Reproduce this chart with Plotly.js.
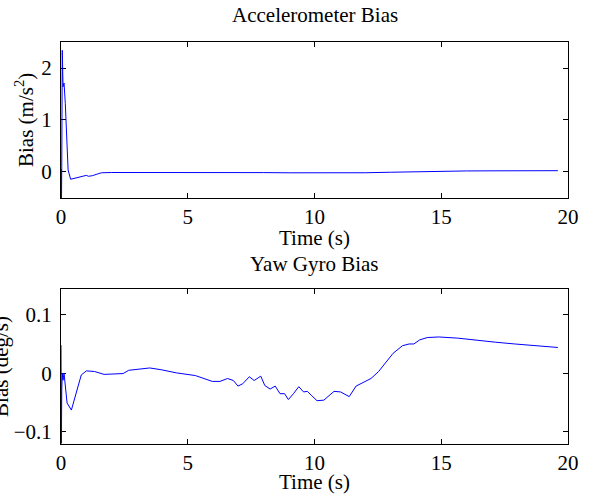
<!DOCTYPE html>
<html>
<head>
<meta charset="utf-8">
<script src="https://cdn.plot.ly/plotly-3.0.1.min.js"></script>
<style>html,body{margin:0;padding:0;background:#fff;}#chart{width:602px;height:494px;}</style>
</head>
<body>
<div id="chart"></div>
<script>
// Accelerometer bias (m/s^2) vs time (s)
const accelTime = [0, 0.005, 0.01, 0.015, 0.02, 0.03, 0.05, 0.08, 0.12, 0.17, 0.24, 0.28, 0.38, 0.55, 0.67, 0.85, 1.0, 1.09, 1.25, 1.43, 1.6, 2.0, 3, 4, 5, 6, 7, 8, 9, 10, 11, 12, 13, 14, 15, 16, 17, 18, 19, 19.6];
const accelBias = [0, -0.5, 0.05, -0.5, -0.5, 0.1, 2.34, 1.64, 1.71, 1.32, 0.48, 0.04, -0.14, -0.12, -0.1, -0.08, -0.065, -0.083, -0.07, -0.04, -0.015, -0.01, -0.008, -0.007, -0.006, -0.006, -0.008, -0.012, -0.016, -0.02, -0.02, -0.015, -0.005, 0.008, 0.017, 0.02, 0.022, 0.023, 0.024, 0.025];

// Yaw gyro bias (deg/s) vs time (s)
const gyroTime = [0, 0.005, 0.01, 0.015, 0.02, 0.03, 0.05, 0.08, 0.12, 0.24, 0.41, 0.6, 0.8, 1.0, 1.32, 1.7, 2.15, 2.45, 2.67, 3.05, 3.5, 3.95, 4.55, 5.3, 5.6, 5.97, 6.27, 6.57, 6.8, 6.98, 7.17, 7.43, 7.62, 7.88, 8.04, 8.25, 8.45, 8.64, 8.82, 8.97, 9.17, 9.38, 9.57, 9.72, 9.87, 10.1, 10.37, 10.55, 10.77, 11.03, 11.18, 11.37, 11.64, 11.9, 12.23, 12.53, 12.8, 13.1, 13.47, 13.73, 13.92, 14.15, 14.45, 14.9, 15.65, 16.4, 17.15, 17.9, 18.65, 19.6];
const gyroBias = [0.048, -0.12, 0.0, -0.12, 0.046, -0.03, 0.0, -0.012, 0.0, -0.051, -0.063, -0.032, -0.003, 0.004, 0.003, -0.002, -0.001, -0.0006, 0.005, 0.007, 0.009, 0.006, 0.0006, -0.004, -0.008, -0.014, -0.014, -0.009, -0.0125, -0.022, -0.018, -0.006, -0.0125, -0.005, -0.021, -0.027, -0.022, -0.035, -0.035, -0.045, -0.035, -0.023, -0.032, -0.031, -0.0375, -0.047, -0.046, -0.039, -0.031, -0.032, -0.035, -0.04, -0.022, -0.016, -0.009, 0.003, 0.018, 0.034, 0.047, 0.05, 0.05, 0.057, 0.061, 0.062, 0.06, 0.056, 0.053, 0.05, 0.047, 0.044];

const xTicks = [0, 5, 10, 15, 20];
const accelTicks = [0, 1, 2];
const gyroTicks = [-0.1, 0, 0.1];

const FONT = 'Liberation Serif, Times New Roman, serif';
const FS = 21;
const axisCommon = {
  showline: true, linecolor: '#000', linewidth: 1, mirror: 'ticks',
  ticks: 'inside', ticklen: 5, tickcolor: '#000', tickwidth: 1,
  showgrid: false, zeroline: false, layer: 'below traces',
  tickfont: {family: FONT, size: FS, color: '#000'}
};

const traces = [
  {x: accelTime, y: accelBias, xaxis: 'x', yaxis: 'y', type: 'scatter', mode: 'lines',
   line: {color: '#0000ff', width: 1}, hoverinfo: 'skip'},
  {x: gyroTime, y: gyroBias, xaxis: 'x2', yaxis: 'y2', type: 'scatter', mode: 'lines',
   line: {color: '#0000ff', width: 1}, hoverinfo: 'skip'}
];

function ann(text, x, y, angle) {
  return {text: text, xref: 'paper', yref: 'paper', x: x, y: y, showarrow: false,
    xanchor: 'center', yanchor: 'middle', textangle: angle || 0,
    font: {family: FONT, size: FS, color: '#000'}};
}

const layout = {
  width: 602, height: 494,
  margin: {l: 61, r: 34, t: 42, b: 50},
  paper_bgcolor: '#fff', plot_bgcolor: '#fff',
  showlegend: false,
  font: {family: FONT, color: '#000'},
  xaxis: Object.assign({}, axisCommon, {domain: [0, 1], anchor: 'y', range: [0, 20], tickvals: xTicks, ticktext: xTicks.map(String), ticklabelstandoff: 0}),
  yaxis: Object.assign({}, axisCommon, {domain: [0.612, 1], anchor: 'x', range: [-0.5, 2.5], tickvals: accelTicks, ticktext: accelTicks.map(String), ticklabelstandoff: 4}),
  xaxis2: Object.assign({}, axisCommon, {domain: [0, 1], anchor: 'y2', range: [0, 20], tickvals: xTicks, ticktext: xTicks.map(String), ticklabelstandoff: 0}),
  yaxis2: Object.assign({}, axisCommon, {domain: [0, 0.3856], anchor: 'x2', range: [-0.121, 0.144], tickvals: gyroTicks, ticktext: ['\u22120.1', '0', '0.1'], ticklabelstandoff: 4}),
  annotations: [
    ann('Accelerometer Bias', 0.5, 1.066),
    ann('Yaw Gyro Bias', 0.5, 0.4478),
    ann('Time (s)', 0.5, 0.5124),
    ann('Time (s)', 0.5, -0.0935),
    ann('Bias (m/s<sup>2</sup>)', -0.071, 0.806, -90),
    ann('Bias (deg/s)', -0.1175, 0.1928, -90)
  ]
};

Plotly.newPlot('chart', traces, layout, {staticPlot: true, displayModeBar: false});
</script>
</body>
</html>
